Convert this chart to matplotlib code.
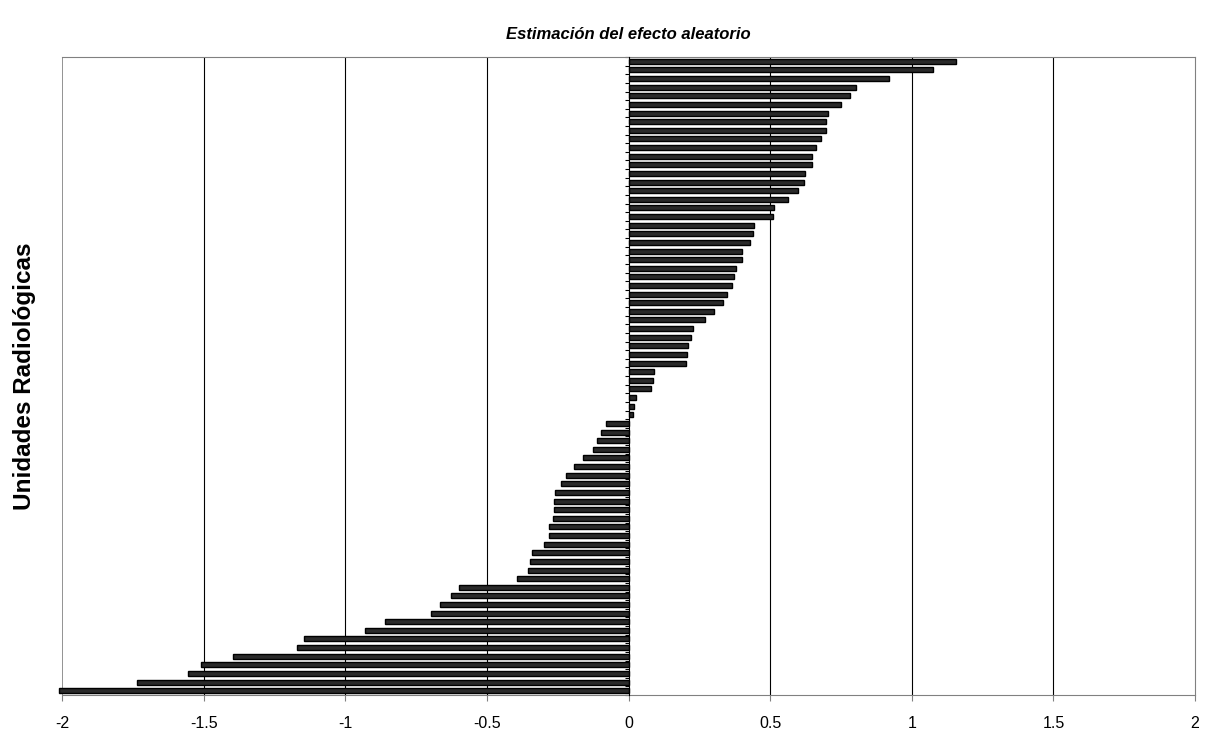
import numpy as np
import matplotlib.pyplot as plt

plt.rcParams['font.family'] = ['Liberation Sans', 'DejaVu Sans']

# efecto aleatorio por unidad, ordenado de mayor a menor (arriba -> abajo)
efecto = [1.156, 1.075, 0.918, 0.802, 0.782, 0.751, 0.705, 0.698, 0.698, 0.678,
          0.662, 0.649, 0.648, 0.623, 0.618, 0.599, 0.562, 0.513, 0.509, 0.444,
          0.440, 0.428, 0.402, 0.401, 0.379, 0.374, 0.367, 0.347, 0.335, 0.302,
          0.269, 0.226, 0.219, 0.209, 0.208, 0.202, 0.089, 0.085, 0.078, 0.028,
          0.021, 0.016, -0.078, -0.098, -0.113, -0.125, -0.162, -0.193, -0.220,
          -0.239, -0.260, -0.262, -0.262, -0.267, -0.282, -0.282, -0.297, -0.340,
          -0.348, -0.354, -0.392, -0.597, -0.625, -0.666, -0.696, -0.861, -0.929,
          -1.147, -1.172, -1.395, -1.510, -1.554, -1.735, -2.011]
xticks = [-2, -1.5, -1, -0.5, 0, 0.5, 1, 1.5, 2]
xlabels = ['-2', '-1.5', '-1', '-0.5', '0', '0.5', '1', '1.5', '2']

n = len(efecto)
pos = np.arange(n)

fig = plt.figure(figsize=(12.13, 7.31), dpi=100)
ax = fig.add_axes([0.0511, 0.0492, 0.9341, 0.8728])

bars = ax.barh(pos, efecto, height=0.58, color='#2a2a2a', edgecolor='black',
               linewidth=1.0, zorder=3)
for b in bars:
    b.set_clip_on(False)

ax.set_xlim(-2, 2)
ax.set_ylim(n - 0.5, -0.5)

# lineas verticales de la rejilla
for g in [-1.5, -1, -0.5, 0.5, 1, 1.5]:
    ax.axvline(g, color='black', linewidth=0.8, zorder=1)
ax.axvline(-2, color='#808080', linewidth=1.2, zorder=1)

# eje de categorias en cero con marcas entre barras
ax.spines['left'].set_position(('data', 0))
ax.spines['left'].set_color('black')
ax.spines['left'].set_linewidth(0.8)
ax.spines['left'].set_zorder(4)
ax.set_yticks(np.arange(n + 1) - 0.5)
ax.set_yticklabels([])
ax.tick_params(axis='y', direction='out', length=3, width=0.8)

ax.spines['top'].set_color('#808080')
ax.spines['right'].set_color('#808080')
ax.spines['bottom'].set_color('#808080')
ax.set_xticks(xticks)
ax.set_xticklabels(xlabels, fontsize=11.5)
ax.tick_params(axis='x', direction='out', length=4, width=0.8, color='#808080', pad=11)

fig.text(0.518, 0.953, 'Estimación del efecto aleatorio', ha='center', va='center',
         fontsize=12, fontweight='bold', fontstyle='italic')
fig.text(0.0206, 0.485, 'Unidades Radiológicas', ha='center', va='center',
         rotation=90, fontsize=17.5, fontweight='bold')

fig.savefig('out.png', dpi=100)
